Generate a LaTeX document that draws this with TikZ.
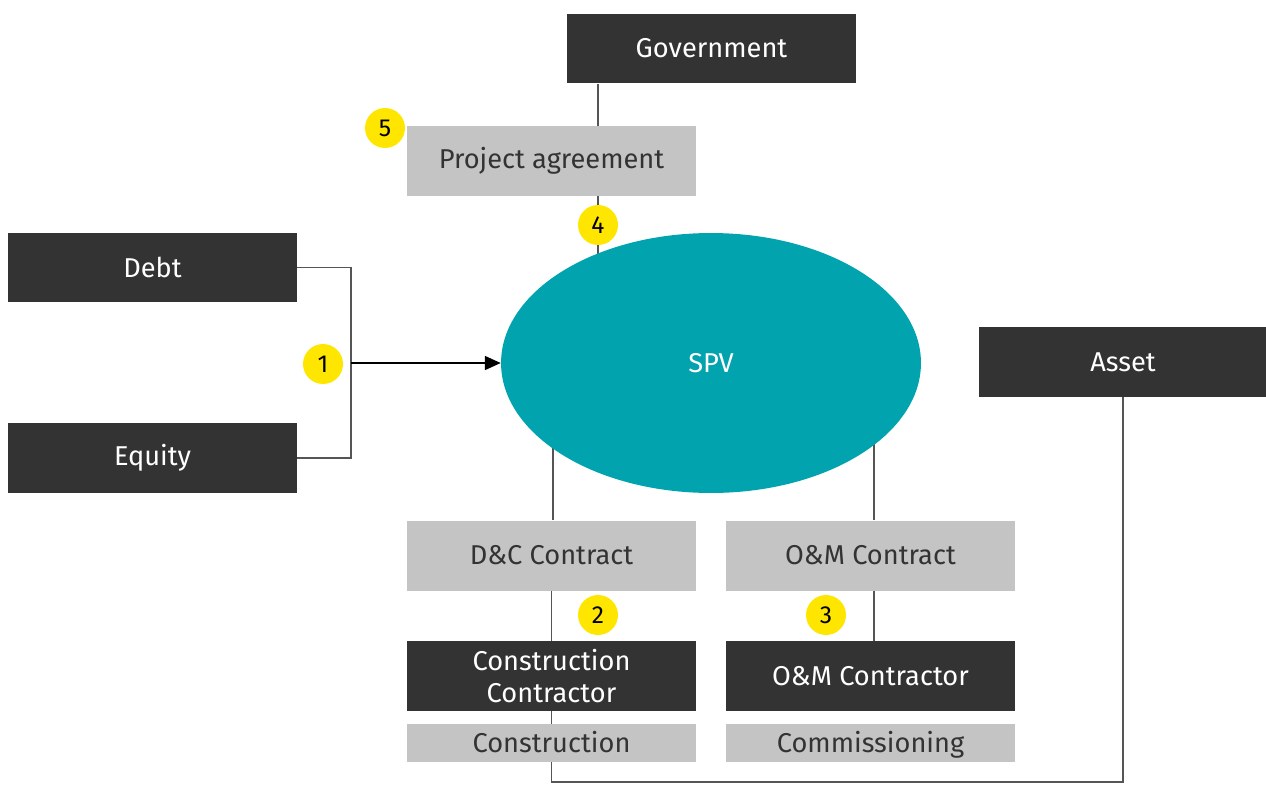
\documentclass[tikz,border=0pt]{standalone}
\usepackage{fontspec}
\setmainfont{Fira Sans}
\usetikzlibrary{arrows.meta,shapes.geometric,backgrounds}
\definecolor{darkbox}{HTML}{333333}
\definecolor{lightbox}{HTML}{C4C4C4}
\definecolor{spvteal}{HTML}{00A3AE}
\definecolor{eyyellow}{HTML}{FFE600}
\definecolor{linegrey}{HTML}{555555}

\begin{document}
\begin{tikzpicture}[x=0.02cm, y=-0.02cm,
    every node/.style={font=\fontsize{15.5}{18}\selectfont, inner sep=0pt, align=center},
    dark/.style={fill=darkbox, text=white, minimum width=5.78cm, minimum height=1.4cm},
    light/.style={fill=lightbox, text=darkbox, minimum width=5.78cm, minimum height=1.4cm},
    thin/.style={fill=lightbox, text=darkbox, minimum width=5.78cm, minimum height=0.76cm, text height=2.4ex, text depth=0.3ex},
    num/.style={circle, fill=eyyellow, text=black, minimum size=0.8cm, font=\fontsize{14}{14}\selectfont},
    link/.style={draw=linegrey, line width=0.8pt}]
    \useasboundingbox (0,0) rectangle (1266,784);
    \node[dark] (gov) at (711.5,48.5) {Government};
    \node[light] (pa) at (551.5,161) {Project agreement};
    \node[dark] (debt) at (152.5,267.5) {Debt};
    \node[dark] (equity) at (152.5,458) {Equity};
    \node[dark] (asset) at (1123,362) {Asset};
    \node[ellipse, fill=spvteal, text=white, minimum width=8.4cm, minimum height=5.2cm] (spv) at (711,363) {SPV};
    \node[light] (dc) at (551.5,555.5) {D\&C Contract};
    \node[light] (om) at (870.5,555.5) {O\&M Contract};
    \node[dark] (cc) at (551.5,676) {Construction\\Contractor};
    \node[dark] (omc) at (870.5,676) {O\&M Contractor};
    \node[thin] (con) at (551.5,743) {Construction};
    \node[thin] (com) at (870.5,743) {Commissioning};
    \coordinate (j) at (351,363);
    \coordinate (b) at (553,782);
    \node[num] (n1) at (323,364) {1};
    \node[num] (n2) at (598,615) {2};
    \node[num] (n3) at (826,615) {3};
    \node[num] (n4) at (598,225) {4};
    \node[num] (n5) at (385,128) {5};
    \begin{scope}[on background layer]
        \draw[link] (gov.south -| n4) -- (pa.north -| n4);
        \draw[link] (pa.south -| n4) -- (n4 |- spv.center);
        \draw[link] (debt.east) -| (j);
        \draw[link] (equity.east) -| (j);
        \draw[link] (553,363) -- (553,520);
        \draw[link] (874,363) -- (874,520);
        \draw[link] (dc.south) -- (cc.north);
        \draw[link] (cc.south) -- (con.north);
        \draw[link] (874,591) -- (874,641);
        \draw[link] (con.south) -- (con.south |- b) -- (b -| asset) -- (asset.south);
    \end{scope}
    \draw[line width=0.8pt, -{Triangle[length=9pt, width=8pt]}] (j) -- (spv.west);
\end{tikzpicture}
\end{document}
